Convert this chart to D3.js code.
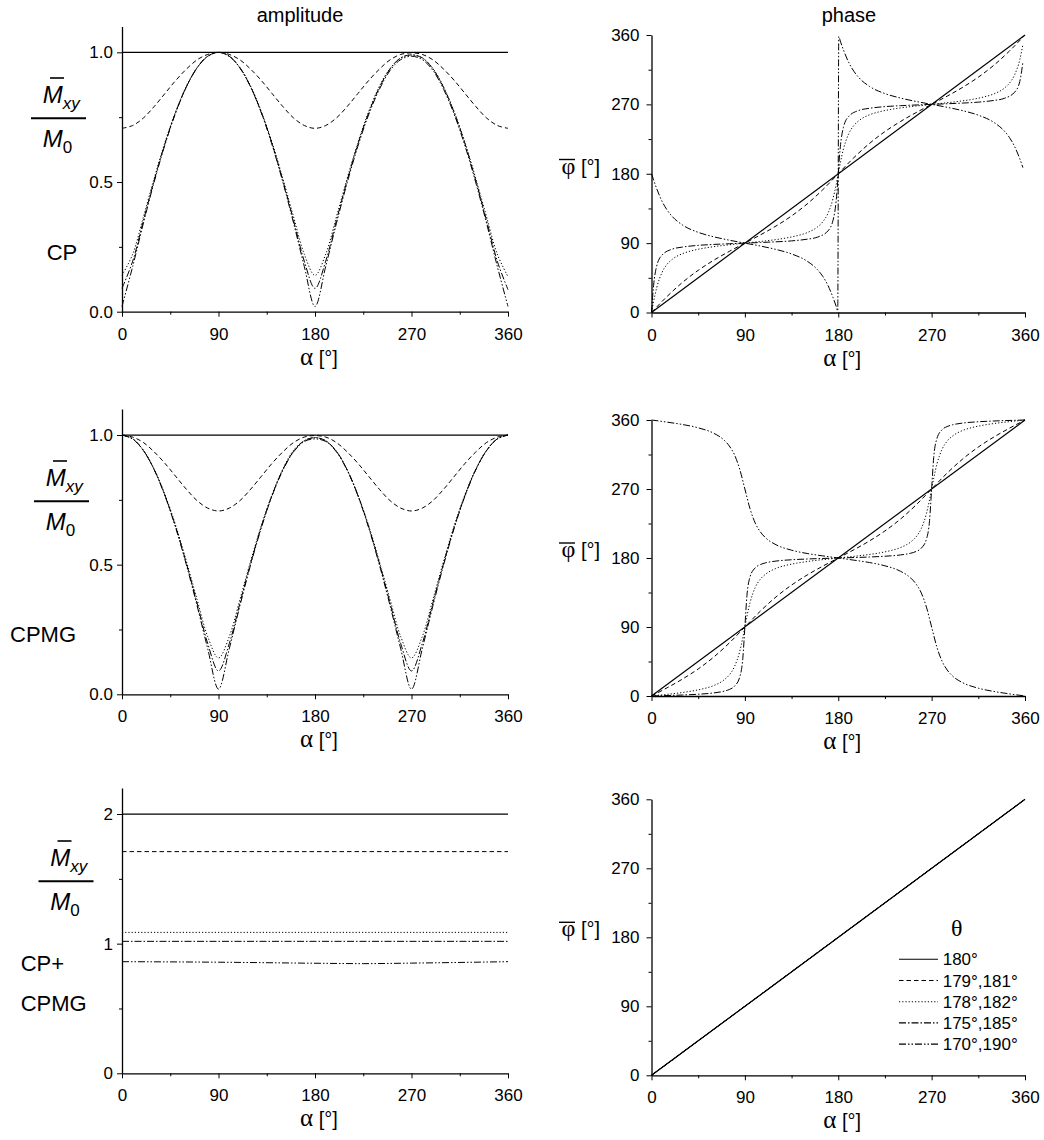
<!DOCTYPE html>
<html>
<head>
<meta charset="utf-8">
<script src="https://cdn.jsdelivr.net/npm/d3@7"></script>
<style>
  body { margin: 0; background: #fff; }
  svg { display: block; font-family: "Liberation Sans", Arial, sans-serif; }
</style>
</head>
<body>
<svg id="chart" width="1044" height="1140"></svg>
<script>
// ---- data ----
const thetaLabels = ["180°", "179°,181°", "178°,182°", "175°,185°", "170°,190°"];
const alphaTicks = [0, 90, 180, 270, 360];
const alphaMinor = [45, 135, 225, 315];
const ampTicks = [0, 0.5, 1.0];
const ampMinor = [0.25, 0.75];
const sumTicks = [0, 1, 2];
const sumMinor = [0.5, 1.5];
const phaseTicks = [0, 90, 180, 270, 360];
const phaseMinor = [45, 135, 225, 315];

const alphaEnds = [0, 360];
const alpha10 = [0, 10, 20, 30, 40, 50, 60, 70, 80, 90, 100, 110, 120, 130, 140, 150, 160, 170, 180,
  190, 200, 210, 220, 230, 240, 250, 260, 270, 280, 290, 300, 310, 320, 330, 340, 350, 360];
const alpha15 = [0, 15, 30, 45, 60, 75, 90, 105, 120, 135, 150, 165, 180, 195, 210, 225, 240, 255, 270,
  285, 300, 315, 330, 345, 360];

// CP amplitude
const cpAmp180 = [1, 1];
const cpAmp179 = [0.707, 0.718, 0.747, 0.791, 0.841, 0.891, 0.935, 0.971, 0.992, 1.0, 0.992, 0.971, 0.935, 0.891, 0.841, 0.791, 0.747, 0.718, 0.707,
  0.718, 0.747, 0.791, 0.841, 0.891, 0.935, 0.971, 0.992, 0.998, 0.992, 0.971, 0.935, 0.891, 0.841, 0.791, 0.747, 0.718, 0.707];
const cpAmp178 = [0.14, 0.222, 0.366, 0.514, 0.652, 0.771, 0.869, 0.941, 0.985, 1.0, 0.985, 0.941, 0.869, 0.771, 0.652, 0.514, 0.366, 0.222, 0.14,
  0.222, 0.366, 0.514, 0.652, 0.771, 0.869, 0.938, 0.978, 0.99, 0.978, 0.938, 0.866, 0.769, 0.651, 0.513, 0.366, 0.222, 0.135];
const cpAmp175 = [0.09, 0.195, 0.352, 0.506, 0.647, 0.768, 0.867, 0.94, 0.985, 1.0, 0.985, 0.94, 0.867, 0.768, 0.647, 0.506, 0.352, 0.195, 0.09,
  0.195, 0.352, 0.506, 0.646, 0.766, 0.864, 0.936, 0.979, 0.99, 0.979, 0.936, 0.864, 0.766, 0.646, 0.505, 0.352, 0.195, 0.085];
const cpAmp170 = [0.02, 0.175, 0.342, 0.5, 0.643, 0.766, 0.866, 0.94, 0.985, 1.0, 0.985, 0.94, 0.866, 0.766, 0.643, 0.5, 0.342, 0.175, 0.02,
  0.175, 0.341, 0.497, 0.638, 0.759, 0.857, 0.93, 0.972, 0.985, 0.972, 0.93, 0.857, 0.759, 0.638, 0.497, 0.341, 0.175, 0.02];

// CPMG amplitude
const cpmgAmp180 = [1, 1];
const cpmgAmp179 = [1.0, 0.992, 0.971, 0.935, 0.891, 0.841, 0.791, 0.747, 0.718, 0.707, 0.718, 0.747, 0.791, 0.841, 0.891, 0.935, 0.971, 0.992, 0.998,
  0.992, 0.971, 0.935, 0.891, 0.841, 0.791, 0.747, 0.718, 0.707, 0.718, 0.747, 0.791, 0.841, 0.891, 0.935, 0.971, 0.992, 1.0];
const cpmgAmp178 = [1.0, 0.985, 0.941, 0.869, 0.771, 0.652, 0.514, 0.366, 0.222, 0.14, 0.222, 0.366, 0.514, 0.652, 0.771, 0.869, 0.941, 0.978, 0.99,
  0.978, 0.938, 0.866, 0.769, 0.651, 0.513, 0.366, 0.222, 0.14, 0.222, 0.366, 0.514, 0.652, 0.771, 0.869, 0.941, 0.985, 1.0];
const cpmgAmp175 = [1.0, 0.985, 0.94, 0.867, 0.768, 0.647, 0.506, 0.352, 0.195, 0.09, 0.195, 0.352, 0.506, 0.647, 0.768, 0.866, 0.937, 0.978, 0.99,
  0.978, 0.937, 0.866, 0.768, 0.647, 0.506, 0.352, 0.195, 0.09, 0.195, 0.352, 0.506, 0.647, 0.768, 0.867, 0.94, 0.985, 1.0];
const cpmgAmp170 = [1.0, 0.985, 0.94, 0.866, 0.766, 0.643, 0.5, 0.342, 0.175, 0.02, 0.175, 0.342, 0.5, 0.643, 0.766, 0.864, 0.935, 0.975, 0.985,
  0.975, 0.935, 0.864, 0.766, 0.643, 0.5, 0.342, 0.175, 0.02, 0.175, 0.342, 0.5, 0.643, 0.766, 0.866, 0.94, 0.985, 1.0];

// CP+CPMG amplitude
const sumAmp180 = [2.0, 2.0];
const sumAmp179 = [1.71, 1.71];
const sumAmp178 = [1.087, 1.087];
const sumAmp175 = [1.018, 1.018];
const sumAlpha170 = [0, 90, 180, 225, 270, 360];
const sumAmp170 = [0.861, 0.857, 0.849, 0.846, 0.85, 0.861];

// CP phase
const cpPh180 = [0, 360];
const cpPh179 = [0, 20.8, 39.2, 54.7, 67.8, 79.3, 90, 100.7, 112.2, 125.3, 140.8, 159.2, 180,
  200.8, 219.2, 234.7, 247.8, 259.3, 270, 280.7, 292.2, 305.3, 320.8, 339.2, 360];
const cpAlpha178 = [0, 2, 5, 10, 15, 20, 30, 40, 50, 60, 70, 80, 90, 100, 110, 120, 130, 140, 150, 160, 165, 170, 175, 178, 180,
  182, 185, 190, 195, 200, 210, 220, 230, 240, 250, 260, 270, 280, 290, 300, 310, 320, 330, 340, 345, 350, 355, 358];
const cpPh178 = [0, 14, 32, 51.6, 62.5, 69, 76.4, 80.5, 83.3, 85.4, 87.1, 88.6, 90, 91.4, 92.9, 94.6, 96.7, 99.5, 103.6, 111, 117.5, 128.4, 148, 166, 180,
  194, 212, 231.6, 242.5, 249, 256.4, 260.5, 263.3, 265.4, 267.1, 268.6, 270, 271.4, 272.9, 274.6, 276.7, 279.5, 283.6, 291, 297.5, 308.4, 328, 348];
const cpAlpha175 = [0, 1, 2, 5, 10, 20, 30, 45, 60, 75, 90, 105, 120, 135, 150, 160, 170, 175, 178, 179, 180,
  181, 182, 185, 190, 200, 210, 225, 240, 255, 270, 285, 300, 315, 330, 340, 350, 355, 358];
const cpPh175 = [0, 19.2, 34.9, 60.2, 74.2, 82.2, 84.9, 87.1, 88.3, 89.2, 90, 90.8, 91.7, 92.9, 95.1, 97.8, 105.8, 119.8, 145.1, 160.8, 180,
  199.2, 214.9, 240.2, 254.2, 262.2, 264.9, 267.1, 268.3, 269.2, 270, 270.8, 271.7, 272.9, 275.1, 277.8, 285.8, 299.8, 325];
const cpAlpha170 = [0, 2, 5, 10, 15, 20, 30, 45, 60, 75, 90, 105, 120, 135, 150, 160, 165, 170, 175, 178, 179.5,
  180.5, 182, 185, 190, 195, 200, 210, 225, 240, 255, 270, 285, 300, 315, 330, 340, 345, 350, 355, 358];
const cpPh170 = [180, 172, 160.7, 144.7, 133, 124.5, 113.4, 104, 98.2, 93.8, 90, 86.2, 81.8, 76, 66.6, 55.5, 47, 35.3, 19.3, 8, 2,
  358, 352, 340.7, 324.7, 313, 304.5, 293.4, 284, 278.2, 273.8, 270, 266.2, 261.8, 256, 246.6, 235.5, 227, 215.3, 199.3, 188];

// CPMG phase
const cpmgPh180 = [0, 360];
const cpmgPh179 = [0, 10.7, 22.2, 35.3, 50.8, 69.2, 90, 110.8, 129.2, 144.7, 157.8, 169.3, 180,
  190.7, 202.2, 215.3, 230.8, 249.2, 270, 290.8, 309.2, 324.7, 337.8, 349.3, 360];
const cpmgAlpha178 = [0, 10, 20, 30, 40, 50, 60, 70, 75, 80, 85, 88, 90, 92, 95, 100, 105, 110, 120, 130, 140, 150, 160, 170, 180,
  190, 200, 210, 220, 230, 240, 250, 255, 260, 265, 268, 270, 272, 275, 280, 285, 290, 300, 310, 320, 330, 340, 350, 360];
const cpmgPh178 = [0, 1.4, 2.9, 4.6, 6.7, 9.5, 13.6, 21.1, 27.5, 38.4, 58, 76, 90, 104, 122, 141.6, 152.5, 158.9, 166.4, 170.5, 173.3, 175.4, 177.1, 178.6, 180,
  181.4, 182.9, 184.6, 186.7, 189.5, 193.6, 201.1, 207.5, 218.4, 238, 256, 270, 284, 302, 321.6, 332.5, 338.9, 346.4, 350.5, 353.3, 355.4, 357.1, 358.6, 360];
const cpmgAlpha175 = [0, 10, 30, 45, 60, 70, 75, 80, 85, 88, 90, 92, 95, 100, 105, 110, 120, 135, 150, 180,
  210, 225, 240, 250, 255, 260, 265, 268, 270, 272, 275, 280, 285, 290, 300, 315, 330, 350, 360];
const cpmgPh175 = [0, 0.4, 1.3, 2.3, 4, 6.3, 8.5, 12.8, 24.6, 48.9, 90, 131.1, 155.4, 167.2, 171.5, 173.7, 176, 177.7, 178.7, 180,
  181.3, 182.3, 184, 186.3, 188.5, 192.8, 204.6, 228.9, 270, 311.1, 335.4, 347.2, 351.5, 353.7, 356, 357.7, 358.7, 359.6, 360];
const cpmgAlpha170 = [0, 15, 30, 45, 60, 70, 75, 80, 85, 90, 95, 100, 105, 110, 120, 135, 150, 165, 180,
  195, 210, 225, 240, 250, 255, 260, 265, 270, 275, 280, 285, 290, 300, 315, 330, 345, 360];
const cpmgPh170 = [360, 357.2, 354.1, 349.8, 342.7, 333.7, 326.1, 314.5, 295.9, 270, 244.1, 225.5, 213.9, 206.3, 197.3, 190.2, 185.9, 182.8, 180,
  177.2, 174.1, 169.8, 162.7, 153.7, 146.1, 134.5, 115.9, 90, 64.1, 45.5, 33.9, 26.3, 17.3, 10.2, 5.9, 2.8, 0];

// CP+CPMG phase (all theta coincide)
const sumPh = [0, 360];

// ---- drawing ----
const dashes = [null, "4.5,3", "1.2,2", "7,2,1.5,2", "7,2,1.5,2,1.5,2"];
const svg = d3.select("#chart");
const sansFont = "'Liberation Sans', Arial, sans-serif";
const serifFont = "'Liberation Serif', 'Times New Roman', serif";

function panel(opt) {
  const x = d3.scaleLinear().domain([0, 360]).range([opt.x0, opt.x1]);
  const y = d3.scaleLinear().domain(opt.yDomain).range([opt.yb, opt.yt]);
  const g = svg.append("g");

  // curves, solid last so it sits on top
  const line = d3.line().x(d => x(d[0])).y(d => y(d[1])).curve(opt.curve);
  opt.series.slice().reverse().forEach((s, i) => {
    const k = opt.series.length - 1 - i;
    g.append("path")
      .datum(d3.zip(s.a, s.v))
      .attr("d", line)
      .attr("fill", "none")
      .attr("stroke", "#000")
      .attr("stroke-width", k === 0 ? 1.2 : 1)
      .attr("stroke-dasharray", dashes[k]);
  });

  // x axis
  const gx = g.append("g").attr("transform", `translate(0,${opt.yb})`)
    .call(d3.axisBottom(x).tickValues(alphaTicks).tickSize(5).tickSizeOuter(0).tickPadding(11));
  gx.append("g").call(d3.axisBottom(x).tickValues(alphaMinor).tickSize(3).tickFormat(""))
    .select(".domain").remove();

  // y axis
  const gy = g.append("g").attr("transform", `translate(${opt.x0},0)`)
    .call(d3.axisLeft(y).tickValues(opt.yTicks).tickSize(5).tickSizeOuter(0)
      .tickPadding(opt.ypad).tickFormat(opt.fmt));
  gy.append("g").call(d3.axisLeft(y).tickValues(opt.yMinor).tickSize(3).tickFormat(""))
    .select(".domain").remove();

  [gx, gy].forEach(a => {
    a.attr("font-size", 17).attr("font-family", sansFont);
    a.selectAll("path, line").attr("stroke", "#000");
    a.selectAll(".domain").attr("stroke-width", 1.3);
  });

  // x title
  const xt = g.append("text")
    .attr("x", (opt.x0 + opt.x1) / 2 + 4).attr("y", opt.yb + 53)
    .attr("text-anchor", "middle");
  xt.append("tspan").attr("font-family", serifFont).attr("font-size", 25).text("α");
  xt.append("tspan").attr("font-family", sansFont).attr("font-size", 20).text(" [°]");
  return { x, y, g };
}

function ampLabel(dx, dy) {
  const g = svg.append("g").attr("transform", `translate(${dx},${dy})`);
  const t1 = g.append("text").attr("x", 42.7).attr("y", 103).attr("font-family", sansFont);
  t1.append("tspan").attr("font-style", "italic").attr("font-size", 24).text("M");
  t1.append("tspan").attr("font-style", "italic").attr("font-size", 17).attr("dy", 6).text("xy");
  g.append("line").attr("x1", 50).attr("x2", 64).attr("y1", 78).attr("y2", 78)
    .attr("stroke", "#000").attr("stroke-width", 1.6);
  g.append("line").attr("x1", 31).attr("x2", 86).attr("y1", 118.3).attr("y2", 118.3)
    .attr("stroke", "#000").attr("stroke-width", 2);
  const t2 = g.append("text").attr("x", 42.7).attr("y", 146.7).attr("font-family", sansFont);
  t2.append("tspan").attr("font-style", "italic").attr("font-size", 24).text("M");
  t2.append("tspan").attr("font-size", 17).attr("dy", 6).text("0");
}

function phaseLabel(yb) {
  const t = svg.append("text").attr("x", 600).attr("y", yb - 139).attr("text-anchor", "end");
  t.append("tspan").attr("font-family", serifFont).attr("font-size", 24).text("φ");
  t.append("tspan").attr("font-family", sansFont).attr("font-size", 20).text(" [°]");
  svg.append("line").attr("x1", 559).attr("x2", 575).attr("y1", yb - 153).attr("y2", yb - 153)
    .attr("stroke", "#000").attr("stroke-width", 1.4);
}

function label(txt, x, y) {
  svg.append("text").attr("x", x).attr("y", y).attr("font-size", 22)
    .attr("font-family", sansFont).text(txt);
}

const ser = (a, v) => ({ a, v });
const ampFmt = d3.format(".1f");
const intFmt = d3.format("d");

// row 1: CP
panel({ x0: 122, x1: 508, yb: 311.7, yt: 26.4, yDomain: [0, 1.1], yTicks: ampTicks, yMinor: ampMinor,
  fmt: ampFmt, ypad: 4, curve: d3.curveCatmullRom,
  series: [ser(alphaEnds, cpAmp180), ser(alpha10, cpAmp179), ser(alpha10, cpAmp178), ser(alpha10, cpAmp175), ser(alpha10, cpAmp170)] });
panel({ x0: 651.5, x1: 1025, yb: 312.5, yt: 35, yDomain: [0, 360], yTicks: phaseTicks, yMinor: phaseMinor,
  fmt: intFmt, ypad: 7, curve: d3.curveMonotoneX,
  series: [ser(alphaEnds, cpPh180), ser(alpha15, cpPh179), ser(cpAlpha178, cpPh178), ser(cpAlpha175, cpPh175), ser(cpAlpha170, cpPh170)] });

// row 2: CPMG
panel({ x0: 122, x1: 508, yb: 694.3, yt: 409.1, yDomain: [0, 1.1], yTicks: ampTicks, yMinor: ampMinor,
  fmt: ampFmt, ypad: 4, curve: d3.curveCatmullRom,
  series: [ser(alphaEnds, cpmgAmp180), ser(alpha10, cpmgAmp179), ser(alpha10, cpmgAmp178), ser(alpha10, cpmgAmp175), ser(alpha10, cpmgAmp170)] });
panel({ x0: 651.5, x1: 1025, yb: 696, yt: 420, yDomain: [0, 360], yTicks: phaseTicks, yMinor: phaseMinor,
  fmt: intFmt, ypad: 7, curve: d3.curveMonotoneX,
  series: [ser(alphaEnds, cpmgPh180), ser(alpha15, cpmgPh179), ser(cpmgAlpha178, cpmgPh178), ser(cpmgAlpha175, cpmgPh175), ser(cpmgAlpha170, cpmgPh170)] });

// row 3: CP+CPMG
panel({ x0: 122, x1: 508, yb: 1073.3, yt: 788.1, yDomain: [0, 2.2], yTicks: sumTicks, yMinor: sumMinor,
  fmt: intFmt, ypad: 4, curve: d3.curveMonotoneX,
  series: [ser(alphaEnds, sumAmp180), ser(alphaEnds, sumAmp179), ser(alphaEnds, sumAmp178), ser(alphaEnds, sumAmp175), ser(sumAlpha170, sumAmp170)] });
panel({ x0: 651.5, x1: 1025, yb: 1075.3, yt: 799.3, yDomain: [0, 360], yTicks: phaseTicks, yMinor: phaseMinor,
  fmt: intFmt, ypad: 7, curve: d3.curveLinear,
  series: [ser(alphaEnds, sumPh), ser(alphaEnds, sumPh), ser(alphaEnds, sumPh), ser(alphaEnds, sumPh), ser(alphaEnds, sumPh)] });

// titles and side labels
svg.append("text").attr("x", 300).attr("y", 22).attr("text-anchor", "middle")
  .attr("font-size", 20).attr("font-family", sansFont).text("amplitude");
svg.append("text").attr("x", 849).attr("y", 22).attr("text-anchor", "middle")
  .attr("font-size", 20).attr("font-family", sansFont).text("phase");

ampLabel(0, 0);
ampLabel(3, 383);
ampLabel(7.5, 763);
phaseLabel(312.5);
phaseLabel(696);
phaseLabel(1075.3);

label("CP", 46.7, 260);
label("CPMG", 10, 641.7);
label("CP+", 20.7, 970.7);
label("CPMG", 20.7, 1010.7);

// legend
const leg = svg.append("g");
leg.append("text").attr("x", 956.7).attr("y", 936).attr("text-anchor", "middle")
  .attr("font-family", serifFont).attr("font-size", 24).text("θ");
thetaLabels.forEach((t, i) => {
  const ly = 959.3 + i * 21.2;
  leg.append("line").attr("x1", 899).attr("x2", 938).attr("y1", ly).attr("y2", ly)
    .attr("stroke", "#000").attr("stroke-width", 1.1).attr("stroke-dasharray", dashes[i]);
  leg.append("text").attr("x", 942.7).attr("y", ly + 6).attr("font-size", 17)
    .attr("font-family", sansFont).text(t);
});
</script>
</body>
</html>
